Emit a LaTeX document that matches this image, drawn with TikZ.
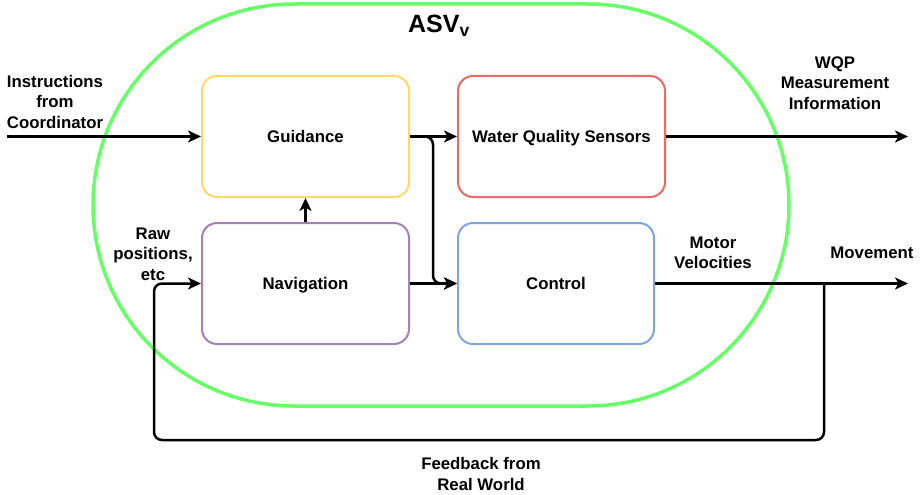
\documentclass[tikz,border=0pt]{standalone}
\usepackage{fontspec}
\setmainfont{Liberation Sans}
\usetikzlibrary{arrows.meta}
\definecolor{asvgreen}{HTML}{66FF66}
\definecolor{guidecol}{HTML}{FFD966}
\definecolor{wqscol}{HTML}{EA6B66}
\definecolor{navcol}{HTML}{A680B8}
\definecolor{ctrlcol}{HTML}{7EA6E0}
\tikzset{
  block/.style={draw=#1, line width=2pt, rounded corners=15pt, fill=white,
    font=\fontsize{16.8}{20}\selectfont\bfseries, align=center,
    text height=12pt, text depth=0pt},
  lbl/.style={font=\fontsize{16.8}{20.5}\selectfont\bfseries, align=center, inner sep=0pt},
  flow/.style={line width=2.5pt, rounded corners=8pt,
    -{Stealth[length=13pt,width=12pt,inset=3.5pt]}}
}
\begin{document}
\begin{tikzpicture}[x=1pt,y=-1pt]
\useasboundingbox (0,0) rectangle (922,495);
% system boundary (stadium shape)
\draw[asvgreen, line width=3.5pt]
  (294,4) -- (588,4) arc[start angle=-90,end angle=90,radius=201]
  -- (294,406) arc[start angle=90,end angle=270,radius=201] -- cycle;
\node[font=\fontsize{25}{25}\selectfont\bfseries, anchor=base] (asv) at (439,33) {ASV\textsubscript{v}};

% blocks
\node[block=guidecol, minimum width=207pt, minimum height=121pt] (guid) at (305.5,136.5) {Guidance};
\node[block=wqscol, minimum width=207pt, minimum height=121pt] (wqs) at (561.5,136.5) {Water Quality Sensors};
\node[block=navcol, minimum width=207pt, minimum height=121pt] (nav) at (305.5,283.5) {Navigation};
\node[block=ctrlcol, minimum width=196pt, minimum height=121pt] (ctrl) at (556,283.5) {Control};

% free ends
\coordinate (inst) at (7,136.5);
\coordinate (wqpout) at (908,136.5);
\coordinate (movout) at (908,283.5);
\coordinate (tap) at (824,283.5);

% labels
\node[lbl] (linst) at (55,101.5) {Instructions\\from\\Coordinator};
\node[lbl] (lwqp) at (835,83) {WQP\\Measurement\\Information};
\node[lbl] (lraw) at (153,254) {Raw\\positions,\\etc};
\node[lbl] (lmot) at (713,253) {Motor\\Velocities};
\node[lbl] (lmov) at (872,253) {Movement};
\node[lbl] (lfb) at (481,474) {Feedback from\\Real World};

% connectors
\draw[flow] (inst) -- (guid.west);
\draw[flow] (guid.east) -- (wqs.west);
\draw[flow] (guid.east) -- (433,136.5) -- (433,283.5) -- (ctrl.west);
\draw[flow] (nav.east) -- (ctrl.west);
\draw[flow] (nav.north) -- (guid.south);
\draw[flow] (wqs.east) -- (wqpout);
\draw[flow] (ctrl.east) -- (movout);
\draw[flow] (tap) -- (824,440) -- (154,440) -- (154,283.5) -- (nav.west);
\end{tikzpicture}
\end{document}
